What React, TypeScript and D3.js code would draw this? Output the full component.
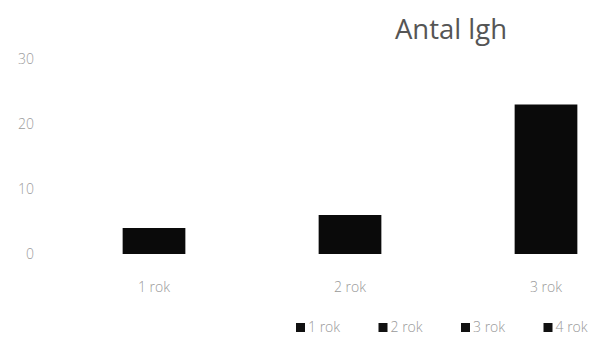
import React from "react";
import { scaleBand, scaleLinear } from "d3";

// data
const categories = ["1 rok", "2 rok", "3 rok"];
const values = [4, 6, 23];
const yTicks = [0, 10, 20, 30];
const legendLabels = ["1 rok", "2 rok", "3 rok", "4 rok"];
const title = "Antal lgh";

const width = 608;
const height = 352;
const font = "'Open Sans', 'Liberation Sans', sans-serif";

export default function App() {
  const xScale = scaleBand<string>()
    .domain(categories)
    .range([56, 644])
    .paddingInner(0.68)
    .paddingOuter(0.34);

  const yScale = scaleLinear().domain([0, 30]).range([254, 59]);

  const legendScale = scaleBand<string>()
    .domain(legendLabels)
    .range([296, 626]);

  return (
    <svg
      width={width}
      height={height}
      style={{ position: "absolute", left: 0, top: 0, background: "#fff" }}
      fontFamily={font}
    >
      <text
        x={451}
        y={39}
        textAnchor="middle"
        fontSize={27.5}
        fontWeight={400}
        fill="#555"
      >
        {title}
      </text>

      {/* y axis labels */}
      {yTicks.map((t) => (
        <text
          key={t}
          x={34}
          y={yScale(t) + 5}
          textAnchor="end"
          fontSize={14}
          fontWeight={300}
          fill="#9c9c9c"
        >
          {t}
        </text>
      ))}

      {/* bars */}
      {values.map((v, i) => (
        <rect
          key={categories[i]}
          x={xScale(categories[i])}
          y={yScale(v)}
          width={xScale.bandwidth()}
          height={yScale(0) - yScale(v)}
          fill="#0a0a0a"
        />
      ))}

      {/* category labels */}
      {categories.map((c) => (
        <text
          key={c}
          x={(xScale(c) || 0) + xScale.bandwidth() / 2}
          y={292}
          textAnchor="middle"
          fontSize={14}
          fontWeight={300}
          fill="#999"
        >
          {c}
        </text>
      ))}

      {/* legend */}
      {legendLabels.map((l) => {
        const x = legendScale(l) || 0;
        return (
          <g key={l} transform={`translate(${x},328)`}>
            <rect x={0} y={-5} width={9} height={9} fill="#111" />
            <text x={12} y={4} fontSize={14} fontWeight={300} fill="#999">
              {l}
            </text>
          </g>
        );
      })}
    </svg>
  );
}
